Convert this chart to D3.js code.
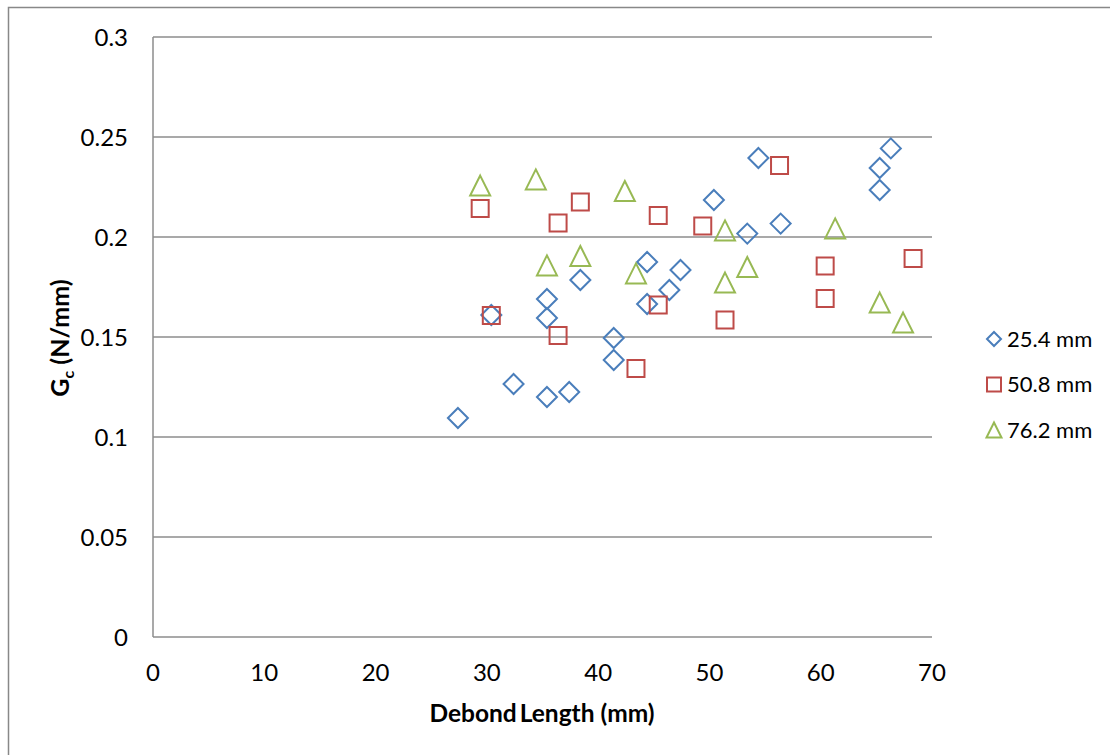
<!DOCTYPE html>
<html>
<head>
<meta charset="utf-8">
<script src="https://cdn.jsdelivr.net/npm/d3@7"></script>
<style>
  html, body { margin: 0; padding: 0; background: #fff; }
  svg { display: block; }
  text { font-family: Lato, "Open Sans", "DejaVu Sans", sans-serif; fill: #000; }
</style>
</head>
<body>
<svg id="chart" width="1110" height="755"></svg>
<script>
// Strain energy release rate vs. debond length for three specimen widths
const seriesNames = ["25.4 mm", "50.8 mm", "76.2 mm"];
const seriesColors = ["#4A7EBB", "#BE4B48", "#98B954"];

const len25 = [27.4, 32.4, 35.4, 37.4, 30.4, 35.4, 35.4, 38.4, 41.4, 41.4, 44.4, 44.4, 46.4, 47.4, 50.4, 53.4, 54.4, 56.4, 65.3, 65.3, 66.3];
const gc25  = [0.1095, 0.1265, 0.1200, 0.1225, 0.1610, 0.1690, 0.1595, 0.1785, 0.1495, 0.1385, 0.1875, 0.1665, 0.1735, 0.1835, 0.2185, 0.2017, 0.2395, 0.2067, 0.2345, 0.2235, 0.2443];

const len50 = [29.4, 38.4, 36.4, 45.4, 30.4, 36.4, 45.4, 43.4, 49.4, 56.3, 51.4, 60.4, 60.4, 68.3];
const gc50  = [0.2143, 0.2175, 0.2070, 0.2108, 0.1608, 0.1507, 0.1660, 0.1343, 0.2055, 0.2358, 0.1585, 0.1855, 0.1693, 0.1893];

const len76 = [29.4, 34.4, 42.4, 35.4, 38.4, 43.4, 51.4, 53.4, 51.4, 61.3, 65.3, 67.4];
const gc76  = [0.2257, 0.2288, 0.2230, 0.1858, 0.1905, 0.1818, 0.2033, 0.1850, 0.1772, 0.2043, 0.1672, 0.1572];

const xTicks = [0, 10, 20, 30, 40, 50, 60, 70];
const yTicks = [0, 0.05, 0.1, 0.15, 0.2, 0.25, 0.3];
const yTickLabels = ["0", "0.05", "0.1", "0.15", "0.2", "0.25", "0.3"];

const svg = d3.select("#chart");
const plot = { left: 153, top: 37, right: 932, bottom: 637 };

const x = d3.scaleLinear().domain([0, 70]).range([plot.left, plot.right]);
const y = d3.scaleLinear().domain([0, 0.3]).range([plot.bottom, plot.top]);

// outer chart frame
svg.append("rect")
  .attr("x", 8.5).attr("y", 7.5)
  .attr("width", 1200).attr("height", 900)
  .attr("fill", "none").attr("stroke", "#888").attr("stroke-width", 1.5);

// horizontal gridlines
svg.append("g")
  .selectAll("line")
  .data(yTicks.filter(d => d > 0))
  .join("line")
  .attr("x1", plot.left).attr("x2", plot.right)
  .attr("y1", d => y(d)).attr("y2", d => y(d))
  .attr("stroke", "#8c8c8c").attr("stroke-width", 1.5);

// axis lines
svg.append("line")
  .attr("x1", x(0)).attr("x2", x(0)).attr("y1", y(0)).attr("y2", y(0.3))
  .attr("stroke", "#8c8c8c").attr("stroke-width", 1.5);
svg.append("line")
  .attr("x1", x(0)).attr("x2", x(70)).attr("y1", y(0)).attr("y2", y(0))
  .attr("stroke", "#8c8c8c").attr("stroke-width", 1.5);

// tick labels
svg.append("g")
  .selectAll("text")
  .data(yTicks)
  .join("text")
  .attr("x", 128)
  .attr("y", d => y(d))
  .attr("dy", "0.36em")
  .attr("text-anchor", "end")
  .attr("font-size", 24)
  .text((d, i) => yTickLabels[i]);

svg.append("g")
  .selectAll("text")
  .data(xTicks)
  .join("text")
  .attr("x", d => x(d))
  .attr("y", 672)
  .attr("dy", "0.36em")
  .attr("text-anchor", "middle")
  .attr("font-size", 24)
  .text(d => d);

// axis titles
const xTitle = svg.append("text")
  .attr("x", 542).attr("y", 713).attr("dy", "0.36em")
  .attr("text-anchor", "middle")
  .attr("font-size", 24.5).attr("font-weight", "bold");
xTitle.append("tspan").attr("word-spacing", -3).text("Debond Length");
xTitle.append("tspan").text(" (mm)");

const yTitle = svg.append("text")
  .attr("transform", "translate(69,338) rotate(-90)")
  .attr("text-anchor", "middle")
  .attr("font-size", 25).attr("font-weight", "bold");
yTitle.append("tspan").text("G");
yTitle.append("tspan").attr("font-size", 16).attr("dy", 5).text("c");
yTitle.append("tspan").attr("dy", -5).text(" (N/mm)");

// marker shapes, s = overall size in px
const shapes = [
  s => { const r = s / 2; return `M0,${-r}L${r},0L0,${r}L${-r},0Z`; },
  s => { const r = s / 2; return `M${-r},${-r}H${r}V${r}H${-r}Z`; },
  s => { const r = s / 2; return `M0,${-r}L${r},${r}H${-r}Z`; }
];
const markerSize = [20, 17, 20];
const legendSize = [14, 14, 15];

const allSeries = [
  { xs: len25, ys: gc25 },
  { xs: len50, ys: gc50 },
  { xs: len76, ys: gc76 }
];

allSeries.forEach((ser, k) => {
  svg.append("g")
    .selectAll("path")
    .data(ser.xs.map((v, i) => [v, ser.ys[i]]))
    .join("path")
    .attr("transform", d => `translate(${x(d[0])},${y(d[1])})`)
    .attr("d", shapes[k](markerSize[k]))
    .attr("fill", "none")
    .attr("stroke", seriesColors[k])
    .attr("stroke-width", 2);
});

// legend
const legend = svg.append("g")
  .selectAll("g")
  .data(seriesNames)
  .join("g")
  .attr("transform", (d, i) => `translate(994,${339 + i * 45.5})`);
legend.append("path")
  .attr("d", (d, i) => shapes[i](legendSize[i]))
  .attr("fill", "none")
  .attr("stroke", (d, i) => seriesColors[i])
  .attr("stroke-width", 2);
legend.append("text")
  .attr("x", 13).attr("dy", "0.36em")
  .attr("font-size", 22)
  .text(d => d);
</script>
</body>
</html>
